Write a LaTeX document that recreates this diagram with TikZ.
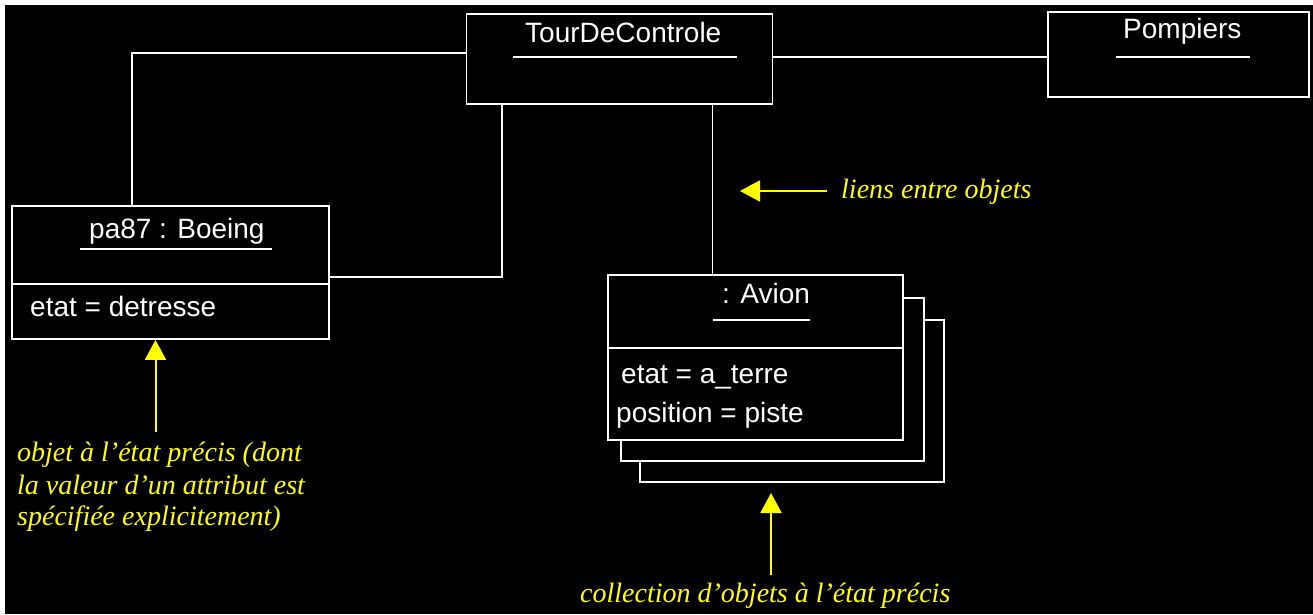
\documentclass[tikz,border=0pt]{standalone}
\usepackage{fontspec}
\setmainfont{Liberation Sans}
\newfontfamily\annotfont{Liberation Serif}
\usetikzlibrary{arrows.meta}
\definecolor{annot}{RGB}{255,255,0}
\tikzset{
  obj/.style={draw=white, line width=1.8pt, fill=black, inner sep=0pt, rectangle},
  lbl/.style={inner sep=0pt, anchor=base west, text=white, font=\fontsize{28}{32}\selectfont},
  note/.style={inner sep=0pt, anchor=base west, text=annot, font=\annotfont\itshape\fontsize{28}{32}\selectfont},
  link/.style={draw=white, line width=1.8pt},
  uline/.style={draw=white, line width=1.8pt},
  pointer/.style={draw=annot, line width=2pt, -{Triangle[length=20pt,width=21pt]}},
}
\begin{document}
\begin{tikzpicture}[x=1pt,y=-1pt]
\useasboundingbox (0,0) rectangle (1313,614);
\fill[white] (0,0) rectangle (1313,614);
\fill[black] (5,5) rectangle (1313,614);

% boxes
\node[obj, minimum width=306pt, minimum height=90pt] (tour) at (619.5,59) {};
\node[obj, minimum width=261pt, minimum height=85pt] (pomp) at (1178.5,54.5) {};
\node[obj, minimum width=317pt, minimum height=133pt] (boeing) at (170.5,272.5) {};
\node[obj, minimum width=304pt, minimum height=162pt] (av3) at (792,401) {};
\node[obj, minimum width=303pt, minimum height=163pt] (av2) at (772.5,379.5) {};
\node[obj, minimum width=295pt, minimum height=165pt] (avion) at (755.5,357.5) {};

% compartments
\draw[uline] ([yshift=-11.5pt]boeing.west) -- ([yshift=-11.5pt]boeing.east);
\draw[uline] ([yshift=9.2pt]avion.west) -- ([yshift=9.2pt]avion.east);

% texts
\node[lbl] (ttour) at (525,42) {TourDeControle};
\draw[uline] (513,57) -- (737,57);
\node[lbl] (tpomp) at (1123,38) {Pompiers};
\draw[uline] (1116,57) -- (1250,57);
\node[lbl] (tboeing) at (89,238) {pa87 : Boeing};
\draw[uline] (80,249) -- (272,249);
\node[lbl] (aboeing) at (30,316) {etat = detresse};
\node[lbl] (tavion) at (722,303) {: Avion};
\draw[uline] (713,320) -- (810,320);
\node[lbl] (aavion1) at (621,383) {etat = a\_terre};
\node[lbl] (aavion2) at (616,422) {position = piste};

% links
\draw[link] ([yshift=6pt]tour.west) -| ([xshift=-38.5pt]boeing.north);
\draw[link] ([yshift=-4.2pt]boeing.east) -| ([xshift=-117.5pt]tour.south);
\draw[link] ([xshift=93pt]tour.south) -- ([xshift=-43pt]avion.north);
\draw[link] ([yshift=2pt]tour.east) -- ([yshift=2pt]tour.east -| pomp.west);

% annotations
\coordinate (liensend) at (827,191);
\coordinate (liensTip) at (740,191);
\draw[pointer] (liensend) -- (liensTip);
\node[note] (nliens) at (841,198) {liens entre objets};

\coordinate (bend) at (155.5,432);
\draw[pointer] (bend) -- (boeing.south -| bend);
\node[note] (nb1) at (17,461) {objet à l’état précis (dont};
\node[note] (nb2) at (17,494) {la valeur d’un attribut est};
\node[note] (nb3) at (17,525) {spécifiée explicitement)};

\coordinate (cend) at (771,575);
\coordinate (ctip) at (771,493);
\draw[pointer] (cend) -- (ctip);
\node[note] (ncoll) at (580,602) {collection d’objets à l’état précis};
\end{tikzpicture}
\end{document}
